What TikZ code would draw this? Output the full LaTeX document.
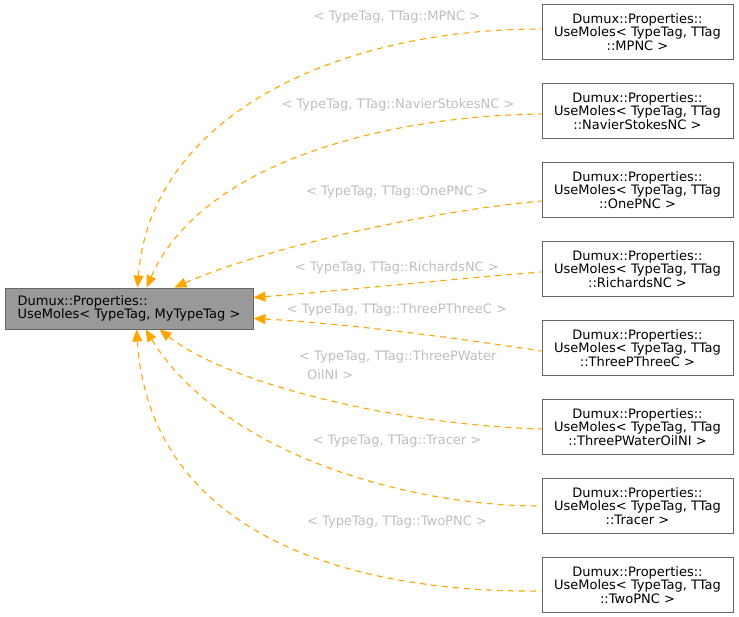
\documentclass[tikz,border=0pt]{standalone}
\usepackage{fontspec}
\setmainfont{DejaVu Sans}
\definecolor{dxorange}{RGB}{255,165,0}
\definecolor{dxgray}{RGB}{190,190,190}
\definecolor{dxborder}{RGB}{102,102,102}
\definecolor{dxfill}{RGB}{153,153,153}
\usetikzlibrary{arrows.meta,positioning}

\tikzset{
  classbox/.style={draw=dxborder, line width=0.9pt, minimum width=191pt, minimum height=55pt,
    align=center, inner sep=0pt, font=\fontsize{13}{13.7}\selectfont},
  basebox/.style={classbox, fill=dxfill, minimum width=248pt, minimum height=41pt, align=left},
  inherit/.style={{Triangle[length=12pt,width=10pt]}-, draw=dxorange, fill=none, line width=1.1pt,
    dash pattern=on 6pt off 5pt},
  edgelabel/.style={text=dxgray, font=\fontsize{13}{13.7}\selectfont, inner sep=0pt}
}

\begin{document}
\begin{tikzpicture}[x=1pt,y=-1pt]
  \useasboundingbox (0,0) rectangle (739,616);

  % base class
  \node[basebox] (base) at (129,308.5) {Dumux::Properties::\\UseMoles< TypeTag, MyTypeTag >};

  % specialisations
  \node[classbox] (mpnc)     at (637.5,32)  {Dumux::Properties::\\UseMoles< TypeTag, TTag\\::MPNC >};
  \node[classbox] (navier)   at (637.5,111) {Dumux::Properties::\\UseMoles< TypeTag, TTag\\::NavierStokesNC >};
  \node[classbox] (onep)     at (637.5,190) {Dumux::Properties::\\UseMoles< TypeTag, TTag\\::OnePNC >};
  \node[classbox] (richards) at (637.5,269) {Dumux::Properties::\\UseMoles< TypeTag, TTag\\::RichardsNC >};
  \node[classbox] (threep)   at (637.5,348) {Dumux::Properties::\\UseMoles< TypeTag, TTag\\::ThreePThreeC >};
  \node[classbox] (wateroil) at (637.5,427) {Dumux::Properties::\\UseMoles< TypeTag, TTag\\::ThreePWaterOilNI >};
  \node[classbox] (tracer)   at (637.5,506) {Dumux::Properties::\\UseMoles< TypeTag, TTag\\::Tracer >};
  \node[classbox] (twop)     at (637.5,585) {Dumux::Properties::\\UseMoles< TypeTag, TTag\\::TwoPNC >};

  % edges
  \draw[inherit] ([xshift=133pt]base.north west) .. controls (150,120) and (330,29) .. ([yshift=3pt]mpnc.west);
  \draw[inherit] ([xshift=142pt]base.north west) .. controls (200,165) and (380,116) .. ([yshift=-3pt]navier.west);
  \draw[inherit] ([xshift=170pt]base.north west) .. controls (260,250) and (420,212) .. ([yshift=-11pt]onep.west);
  \draw[inherit] ([yshift=11pt]base.east) .. controls (340,291) and (450,279) .. ([yshift=-3pt]richards.west);
  \draw[inherit] ([yshift=-10pt]base.east) .. controls (340,323) and (450,337) .. ([yshift=-3pt]threep.west);
  \draw[inherit] ([xshift=155pt]base.south west) .. controls (230,385) and (400,425) .. ([yshift=-2pt]wateroil.west);
  \draw[inherit] ([xshift=141pt]base.south west) .. controls (220,450) and (400,506) .. (tracer.west);
  \draw[inherit] ([xshift=132pt]base.south west) .. controls (150,530) and (340,593) .. ([yshift=-6pt]twop.west);

  % edge labels
  \node[edgelabel] (lmpnc)     at (397,17)  {< TypeTag, TTag::MPNC >};
  \node[edgelabel] (lnavier)   at (398,105) {< TypeTag, TTag::NavierStokesNC >};
  \node[edgelabel] (lonep)     at (397,192) {< TypeTag, TTag::OnePNC >};
  \node[edgelabel] (lrichards) at (397,268) {< TypeTag, TTag::RichardsNC >};
  \node[edgelabel] (lthreep)   at (397,310) {< TypeTag, TTag::ThreePThreeC >};
  \node[edgelabel, align=left, anchor=north west] (lwateroil) at (299,350) {< TypeTag, TTag::ThreePWater\\[6pt]\hspace*{8pt}OilNI >};
  \node[edgelabel] (ltracer)   at (397,441) {< TypeTag, TTag::Tracer >};
  \node[edgelabel] (ltwop)     at (397,522) {< TypeTag, TTag::TwoPNC >};
\end{tikzpicture}
\end{document}
